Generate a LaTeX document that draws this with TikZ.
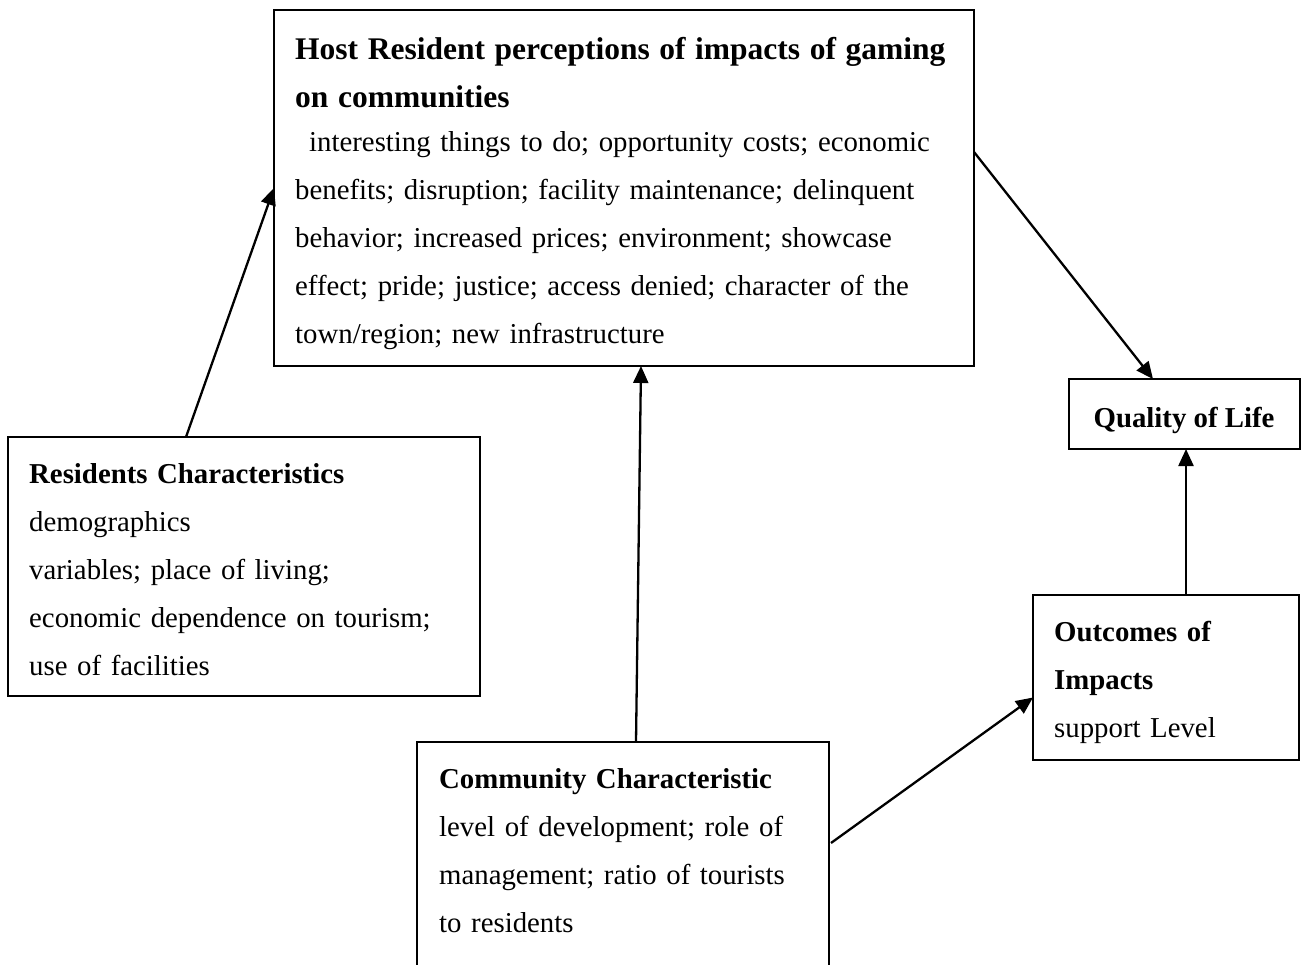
\documentclass[tikz,border=0pt]{standalone}
\usepackage{fontspec}
\setmainfont{Liberation Serif}
\usetikzlibrary{arrows.meta,calc}
\newcommand{\firstline}{\rule{0pt}{32pt}}
\begin{document}
\begin{tikzpicture}[x=1pt,y=-1pt,
  box/.style={draw, line width=2pt, inner sep=0pt, outer sep=0pt, anchor=north west},
  txt/.style={anchor=north west, inner sep=0pt, align=left, text width=#1,
    font=\fontsize{28.8}{48}\selectfont},
  link/.style={line width=2.3pt, -{Triangle[length=17pt,width=15pt]}}]
\path[use as bounding box, clip] (0,0) rectangle (1301,965);

% boxes
\node[box, minimum width=700pt, minimum height=356pt] (host) at (274,10) {};
\node[box, minimum width=472pt, minimum height=259pt] (res) at (8,437) {};
\node[box, minimum width=231pt, minimum height=70pt] (qol) at (1069,379) {};
\node[box, minimum width=266pt, minimum height=165pt] (out) at (1033,595) {};
\node[box, minimum width=412pt, minimum height=240pt] (comm) at (417,742) {};

% box texts
\node[txt=690pt] (hosttext) at (295,27) {\firstline{\fontsize{31.5}{48}\selectfont\bfseries Host Resident perceptions of impacts of gaming}\\
{\fontsize{31.5}{48}\selectfont\bfseries on communities}\\[-4pt]
\hspace*{14pt}interesting things to do; opportunity costs; economic\\
benefits; disruption; facility maintenance; delinquent\\
behavior; increased prices; environment; showcase\\
effect; pride; justice; access denied; character of the\\
town/region; new infrastructure};

\node[anchor=base, inner sep=0pt, font=\fontsize{28.8}{48}\selectfont\bfseries]
  (qoltext) at (1184,427) {Quality of Life};

\node[txt=445pt] (restext) at (29,451) {\firstline\textbf{Residents Characteristics}\\
demographics\\
variables; place of living;\\
economic dependence on tourism;\\
use of facilities};

\node[txt=385pt] (commtext) at (439,756) {\firstline\textbf{Community Characteristic}\\
level of development; role of\\
management; ratio of tourists\\
to residents};

\node[txt=240pt] (outtext) at (1054,609) {\firstline\textbf{Outcomes of}\\
\textbf{Impacts}\\
support Level};

% connectors
\draw[link] ($(res.north west)+(178,0)$) -- (host.west);
\draw[link] ($(comm.north west)+(219,0)$) -- ($(host.south west)+(367,0)$);
\draw[link] ($(host.north east)+(0,142)$) -- ($(qol.north west)+(84,0)$);
\draw[link] ($(out.north west)+(153,0)$) -- ($(qol.south west)+(117,0)$);
\draw[link] ($(comm.north east)+(2,101)$) -- ($(out.west)+(0,20)$);
\end{tikzpicture}
\end{document}
